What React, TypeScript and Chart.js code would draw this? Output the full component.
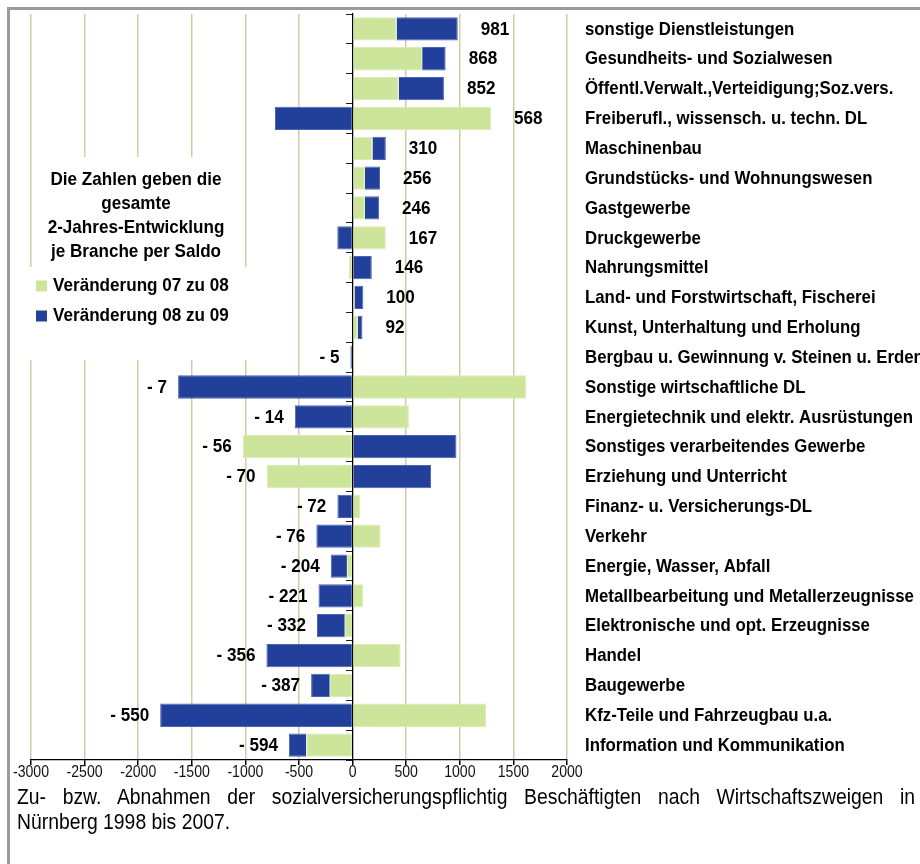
import React, { useEffect, useRef } from "react";
import { Chart, registerables } from "chart.js";

Chart.register(...registerables);

const categories = [
  "sonstige Dienstleistungen",
  "Gesundheits- und Sozialwesen",
  "Öffentl.Verwalt.,Verteidigung;Soz.vers.",
  "Freiberufl., wissensch. u. techn. DL",
  "Maschinenbau",
  "Grundstücks- und Wohnungswesen",
  "Gastgewerbe",
  "Druckgewerbe",
  "Nahrungsmittel",
  "Land- und Forstwirtschaft, Fischerei",
  "Kunst, Unterhaltung und Erholung",
  "Bergbau u. Gewinnung v. Steinen u. Erden",
  "Sonstige wirtschaftliche DL",
  "Energietechnik und elektr. Ausrüstungen",
  "Sonstiges verarbeitendes Gewerbe",
  "Erziehung und Unterricht",
  "Finanz- u. Versicherungs-DL",
  "Verkehr",
  "Energie, Wasser, Abfall",
  "Metallbearbeitung und Metallerzeugnisse",
  "Elektronische und opt. Erzeugnisse",
  "Handel",
  "Baugewerbe",
  "Kfz-Teile und Fahrzeugbau u.a.",
  "Information und Kommunikation",
];

const change0708 = [
  410, 649, 430, 1292, 185, 115, 115, 310, -33, 17, 48, 15, 1621, 525, -1025,
  -802, 70, 262, -53, 97, -73, 448, -213, 1245, -432,
];

const change0809 = [
  571, 219, 422, -724, 125, 141, 131, -143, 179, 83, 44, -20, -1628, -539, 969,
  732, -142, -338, -151, -318, -259, -804, -174, -1795, -162,
];

const totals = [
  981, 868, 852, 568, 310, 256, 246, 167, 146, 100, 92, -5, -7, -14, -56, -70,
  -72, -76, -204, -221, -332, -356, -387, -550, -594,
];

const seriesNames = ["Veränderung 07 zu 08", "Veränderung 08 zu 09"];
const legendTitle = [
  "Die Zahlen geben die",
  "gesamte",
  "2-Jahres-Entwicklung",
  "je Branche per Saldo",
];
const xMin = -3000;
const xMax = 2000;
const xStep = 500;

const captionLine1 =
  "Zu- bzw. Abnahmen der sozialversicherungspflichtig Beschäftigten nach Wirtschaftszweigen in";
const captionLine2 = "Nürnberg 1998 bis 2007.";

const GREEN = "#cde49b";
const BLUE = "#22409a";
const FONT = '"Liberation Sans", Arial, sans-serif';
const SX = 0.9;
const SX_CAT = 0.885;

function drawText(ctx: any, text: string, x: number, y: number, align: string, sx: number) {
  ctx.save();
  ctx.translate(x, y);
  ctx.scale(sx, 1);
  ctx.textAlign = align;
  ctx.fillText(text, 0, 0);
  ctx.restore();
}

const overlayPlugin = {
  id: "overlay",
  beforeDatasetsDraw(chart: any) {
    const ctx = chart.ctx;
    ctx.save();
    ctx.fillStyle = "#ffffff";
    ctx.fillRect(35, 157, 206, 112);
    ctx.fillRect(24, 267, 228, 93);
    ctx.restore();
  },
  afterDatasetsDraw(chart: any) {
    const ctx = chart.ctx;
    const xs = chart.scales.x;
    const ys = chart.scales.y;
    ctx.save();
    ctx.fillStyle = "#000";
    ctx.textBaseline = "middle";
    ctx.font = `bold 19px ${FONT}`;
    categories.forEach((cat, i) => {
      const yc = ys.getPixelForValue(i) + 0.5;
      drawText(ctx, cat, 585, yc, "left", SX_CAT);
      const a = change0708[i];
      const b = change0809[i];
      const pos = Math.max(a, 0) + Math.max(b, 0);
      const neg = Math.min(a, 0) + Math.min(b, 0);
      const t = totals[i];
      if (t >= 0) {
        drawText(ctx, String(t), xs.getPixelForValue(pos) + 23, yc, "left", SX);
      } else {
        drawText(ctx, "- " + Math.abs(t), xs.getPixelForValue(neg) - 11, yc, "right", SX);
      }
    });
    // legend title
    const titleY = [180, 204, 228, 252];
    legendTitle.forEach((line, i) => drawText(ctx, line, 136, titleY[i], "center", SX));
    // legend items
    const itemY = [286, 316];
    const colors = [GREEN, BLUE];
    seriesNames.forEach((name, i) => {
      ctx.fillStyle = colors[i];
      ctx.fillRect(36, itemY[i] - 5.5, 11, 11);
      ctx.fillStyle = "#000";
      drawText(ctx, name, 53, itemY[i], "left", SX);
    });
    // x tick labels
    ctx.font = `16px ${FONT}`;
    ctx.fillStyle = "#111";
    xs.ticks.forEach((tk: any) => {
      drawText(ctx, String(tk.value), xs.getPixelForValue(tk.value), 773, "center", 0.88);
    });
    ctx.restore();
  },
};

export default function App() {
  const ref = useRef<HTMLCanvasElement>(null);

  useEffect(() => {
    if (!ref.current) return;
    const chart = new Chart(ref.current, {
      type: "bar",
      data: {
        labels: categories,
        datasets: [
          {
            label: seriesNames[0],
            data: change0708,
            backgroundColor: GREEN,
            borderColor: "#dbecb6",
            borderWidth: 1,
            barPercentage: 0.78,
            categoryPercentage: 1,
          },
          {
            label: seriesNames[1],
            data: change0809,
            backgroundColor: BLUE,
            borderColor: "#4a64b8",
            borderWidth: 1,
            barPercentage: 0.78,
            categoryPercentage: 1,
          },
        ],
      },
      options: {
        indexAxis: "y",
        responsive: false,
        animation: false,
        devicePixelRatio: 1,
        layout: { padding: { left: 31, right: 353, top: 14, bottom: 0 } },
        plugins: {
          legend: { display: false },
          tooltip: { enabled: false },
        },
        scales: {
          x: {
            type: "linear",
            min: xMin,
            max: xMax,
            stacked: true,
            ticks: {
              stepSize: xStep,
              display: false,
            },
            grid: {
              color: "#d3cca2",
              lineWidth: 1.5,
              tickColor: "#000",
              tickLength: 5,
            },
            border: { display: true, color: "#000", width: 1.2 },
            afterFit: (s: any) => {
              s.height = 104;
            },
          },
          y: {
            type: "category",
            stacked: true,
            position: { x: 0 } as any,
            ticks: { display: false },
            grid: {
              drawOnChartArea: false,
              drawTicks: true,
              tickLength: 6,
              tickColor: "#222",
              offset: true,
            },
            border: { display: true, color: "#000", width: 1.2 },
          },
        },
      },
      plugins: [overlayPlugin],
    } as any);
    return () => chart.destroy();
  }, []);

  const capScale = 0.88;
  return (
    <div
      style={{
        position: "fixed",
        left: 0,
        top: 0,
        width: 920,
        height: 864,
        overflow: "hidden",
        background: "#fff",
      }}
    >
      <canvas
        ref={ref}
        width={920}
        height={864}
        style={{ position: "absolute", left: 0, top: 0, width: 920, height: 864 }}
      />
      <div
        style={{
          position: "absolute",
          left: 7,
          top: 7,
          width: 2000,
          height: 2000,
          borderTop: "3px solid #9b9b9b",
          borderLeft: "3px solid #9b9b9b",
          pointerEvents: "none",
        }}
      />
      <div
        style={{
          position: "absolute",
          left: 17,
          top: 784,
          width: 898 / capScale,
          fontFamily: FONT,
          fontSize: 22,
          lineHeight: "25px",
          color: "#000",
          transform: `scaleX(${capScale})`,
          transformOrigin: "0 0",
        }}
      >
        <div style={{ textAlign: "justify", textAlignLast: "justify" as any }}>
          {captionLine1}
        </div>
        <div style={{ textAlign: "left" }}>{captionLine2}</div>
      </div>
    </div>
  );
}
